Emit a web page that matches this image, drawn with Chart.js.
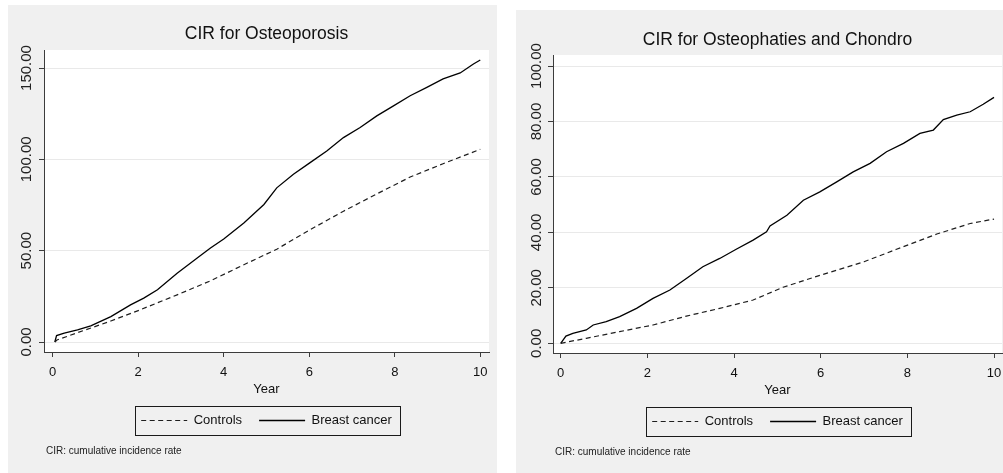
<!DOCTYPE html>
<html>
<head>
<meta charset="utf-8">
<script src="https://cdn.jsdelivr.net/npm/chart.js@4.4.1/dist/chart.umd.min.js"></script>
<style>
  html, body { margin: 0; padding: 0; background: #ffffff; }
  body { position: relative; width: 1003px; height: 473px; overflow: hidden; }
  canvas { position: absolute; background: #f0f0f0; }
</style>
</head>
<body>
<canvas id="osteo" width="489" height="468" style="left:8px;top:5px;width:489px;height:468px"></canvas>
<canvas id="chondro" width="487" height="463" style="left:516px;top:10px;width:487px;height:463px"></canvas>
<script>
// Cumulative incidence rate (per 1000) by year of follow-up
const seriesLabels = ['Controls', 'Breast cancer'];
const yearTicks = [0, 2, 4, 6, 8, 10];
const noteText = 'CIR: cumulative incidence rate';

// Osteoporosis
const osteoTitle = 'CIR for Osteoporosis';
const osteoYTicks = [0, 50, 100, 150];
const osteoCtrlYears = [0.05, 0.1, 0.58, 1.36, 2.0, 2.91, 3.69, 4.47, 5.24, 6.02, 6.8, 7.58, 8.36, 9.13, 10.0];
const osteoCtrlCIR   = [0, 1.1, 5.1, 11.5, 17.2, 25.8, 33.5, 42.3, 50.8, 61.5, 71.6, 81.1, 90.3, 97.6, 105.5];
const osteoBCYears = [0.05, 0.09, 0.27, 0.58, 0.89, 1.36, 1.82, 2.13, 2.45, 2.91, 3.38, 3.69, 4.0, 4.47, 4.94,
                      5.24, 5.63, 6.02, 6.41, 6.8, 7.19, 7.58, 7.97, 8.36, 8.75, 9.13, 9.53, 9.84, 10.0];
const osteoBCCIR   = [0, 3.5, 4.8, 6.6, 8.8, 13.9, 20.3, 24.0, 28.6, 37.7, 46.0, 51.5, 56.4, 65.2, 75.3,
                      84.4, 91.8, 98.2, 104.6, 111.9, 117.4, 123.8, 129.3, 134.8, 139.4, 144.0, 147.3, 152.2, 154.4];

// Osteopathies and chondropathies
const chondroTitle = 'CIR for Osteophaties and Chondro';
const chondroYTicks = [0, 20, 40, 60, 80, 100];
const chondroCtrlYears = [0, 0.59, 1.36, 2.13, 2.9, 3.67, 4.44, 5.13, 6.0, 7.0, 7.75, 8.68, 9.45, 10.0];
const chondroCtrlCIR   = [0, 1.8, 4.2, 6.6, 9.8, 12.6, 15.6, 20.2, 24.6, 29.4, 33.9, 39.4, 43.2, 44.8];
const chondroBCYears = [0, 0.12, 0.28, 0.59, 0.75, 1.05, 1.36, 1.75, 2.13, 2.52, 2.9, 3.28, 3.67, 4.05, 4.44, 4.75,
                        4.83, 5.22, 5.6, 5.98, 6.37, 6.75, 7.14, 7.52, 7.91, 8.29, 8.6, 8.83, 9.14, 9.45, 9.75, 10.0];
const chondroBCCIR   = [0, 2.6, 3.6, 4.8, 6.6, 7.8, 9.6, 12.6, 16.2, 19.2, 23.4, 27.6, 30.6, 33.9, 37.2, 40.2,
                        42.3, 46.2, 51.6, 54.6, 58.2, 61.8, 64.9, 69.1, 72.1, 75.7, 76.9, 80.7, 82.3, 83.5, 86.2, 88.7];

const FONT = '"Liberation Sans", Arial, sans-serif';
const AXIS_COLOR = '#3c3c3c';

const toPoints = (xs, ys) => xs.map((x, i) => ({ x, y: ys[i] }));

// white plot region on the grey panel
const plotBackground = {
  id: 'plotBackground',
  beforeDraw(chart) {
    const { ctx, chartArea: a } = chart;
    ctx.save();
    ctx.fillStyle = '#ffffff';
    ctx.fillRect(a.left, a.top, a.right - a.left, a.bottom - a.top);
    ctx.restore();
  }
};

// framed legend and footnote
const panelExtras = {
  id: 'panelExtras',
  afterDraw(chart, args, opts) {
    const { ctx, chartArea: a } = chart;
    const boxes = chart.legend && chart.legend.legendHitBoxes;
    ctx.save();
    if (boxes && boxes.length) {
      const first = boxes[0], last = boxes[boxes.length - 1];
      const cy = first.top + first.height / 2;
      const l = Math.round(first.left - 6) + 0.5;
      const r = Math.round(last.left + last.width + 8) + 0.5;
      const t = Math.round(cy - 14.5) + 0.5;
      const b = Math.round(cy + 14.5) + 0.5;
      ctx.strokeStyle = '#1a1a1a';
      ctx.lineWidth = 1;
      ctx.strokeRect(l, t, r - l, b - t);
    }
    ctx.fillStyle = '#222222';
    ctx.font = '10px ' + FONT;
    ctx.textAlign = 'left';
    ctx.textBaseline = 'middle';
    ctx.fillText(opts.note, a.left + 2, opts.noteY);
    ctx.restore();
  }
};

// legend entries drawn as short line samples with each dataset's own dash pattern
function lineLegendLabels(chart) {
  const items = Chart.defaults.plugins.legend.labels.generateLabels(chart);
  return items.map(item => {
    const ds = chart.data.datasets[item.datasetIndex];
    return Object.assign(item, {
      pointStyle: 'line',
      lineDash: ds.borderDash || [],
      lineWidth: ds.borderWidth,
      strokeStyle: ds.borderColor,
      fillStyle: ds.borderColor
    });
  });
}

function makeChart(id, cfg) {
  return new Chart(document.getElementById(id), {
    type: 'line',
    data: {
      datasets: [
        {
          label: seriesLabels[0],
          data: toPoints(cfg.ctrlYears, cfg.ctrlCIR),
          borderColor: '#1e1e1e',
          borderWidth: 1.2,
          borderDash: [5, 3.5],
          pointRadius: 0,
          tension: 0,
          fill: false
        },
        {
          label: seriesLabels[1],
          data: toPoints(cfg.bcYears, cfg.bcCIR),
          borderColor: '#000000',
          borderWidth: 1.3,
          pointRadius: 0,
          tension: 0,
          fill: false
        }
      ]
    },
    options: {
      responsive: false,
      animation: false,
      devicePixelRatio: 1,
      layout: { padding: { left: 0, right: cfg.padRight, top: 0, bottom: cfg.padBottom } },
      scales: {
        x: {
          type: 'linear',
          min: cfg.xMin,
          max: cfg.xMax,
          afterBuildTicks: s => { s.ticks = yearTicks.map(v => ({ value: v })); },
          afterFit: s => { s.height = 45; s.paddingLeft = 0; s.paddingRight = 0; },
          ticks: {
            color: '#111111',
            font: { family: FONT, size: 13 },
            padding: 8,
            maxRotation: 0,
            callback: v => String(v)
          },
          grid: {
            display: true,
            drawOnChartArea: false,
            drawTicks: true,
            tickLength: 5,
            tickColor: AXIS_COLOR,
            tickWidth: 1
          },
          border: { display: true, color: AXIS_COLOR, width: 1 },
          title: {
            display: true,
            text: 'Year',
            color: '#111111',
            font: { family: FONT, size: 13 },
            padding: { top: 0, bottom: 0 }
          }
        },
        y: {
          type: 'linear',
          min: cfg.yMin,
          max: cfg.yMax,
          afterBuildTicks: s => { s.ticks = cfg.yTicks.map(v => ({ value: v })); },
          afterFit: s => { s.width = cfg.yAxisWidth; },
          ticks: {
            color: '#222222',
            font: { family: FONT, size: 15 },
            minRotation: 90,
            maxRotation: 90,
            crossAlign: 'center',
            padding: cfg.yLabelPad,
            callback: v => Number(v).toFixed(2)
          },
          grid: {
            display: true,
            drawOnChartArea: true,
            color: '#e9e9e9',
            lineWidth: 1,
            drawTicks: true,
            tickLength: 5,
            tickColor: AXIS_COLOR,
            tickWidth: 1
          },
          border: { display: true, color: AXIS_COLOR, width: 1 }
        }
      },
      plugins: {
        title: {
          display: true,
          text: cfg.title,
          fullSize: false,
          color: '#111111',
          font: { family: FONT, size: 17.5, weight: 'normal', lineHeight: 1.2 },
          padding: { top: cfg.titleTop, bottom: cfg.titleBottom }
        },
        legend: {
          display: true,
          position: 'bottom',
          fullSize: false,
          labels: {
            color: '#111111',
            font: { family: FONT, size: 13 },
            usePointStyle: true,
            pointStyleWidth: 46,
            boxHeight: 13,
            padding: 17,
            generateLabels: lineLegendLabels
          }
        },
        tooltip: { enabled: false },
        panelExtras: { note: noteText, noteY: cfg.noteY }
      }
    },
    plugins: [plotBackground, panelExtras]
  });
}

makeChart('osteo', {
  title: osteoTitle,
  ctrlYears: osteoCtrlYears, ctrlCIR: osteoCtrlCIR,
  bcYears: osteoBCYears, bcCIR: osteoBCCIR,
  yTicks: osteoYTicks,
  xMin: -0.2035, xMax: 10.204,
  yMin: -5.47, yMax: 159.86,
  yAxisWidth: 36, yLabelPad: -11,
  padRight: 8, padBottom: 36,
  titleTop: 19, titleBottom: 5,
  noteY: 446
});

makeChart('chondro', {
  title: chondroTitle,
  ctrlYears: chondroCtrlYears, ctrlCIR: chondroCtrlCIR,
  bcYears: chondroBCYears, bcCIR: chondroBCCIR,
  yTicks: chondroYTicks,
  xMin: -0.178, xMax: 10.184,
  yMin: -3.5, yMax: 103.97,
  yAxisWidth: 37, yLabelPad: -12,
  padRight: 1, padBottom: 35,
  titleTop: 19.5, titleBottom: 4.5,
  noteY: 442
});
</script>
</body>
</html>
